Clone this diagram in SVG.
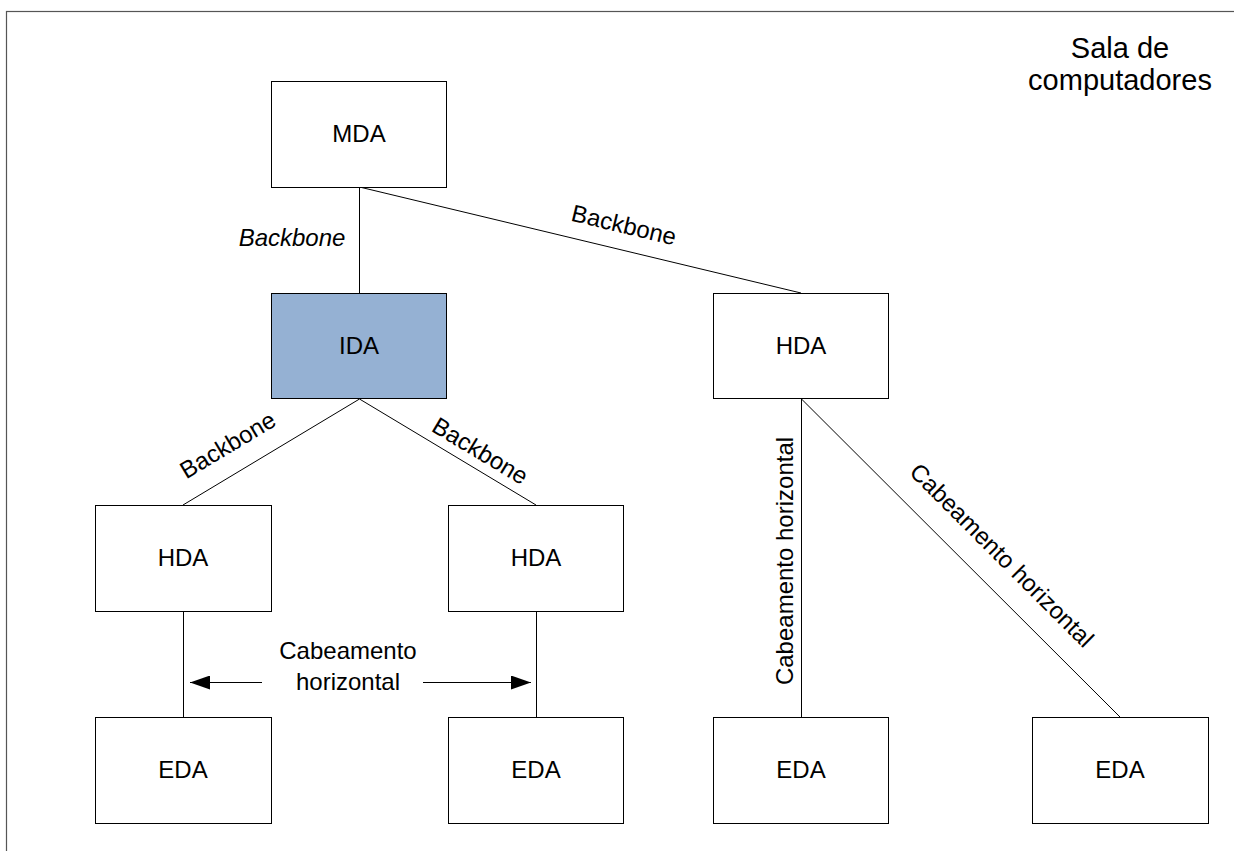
<svg xmlns="http://www.w3.org/2000/svg" width="1234" height="851" viewBox="0 0 1234 851">
<style>
.box{fill:#fff;stroke:#000;stroke-width:1}
.ida{fill:#95B1D3;stroke:#000;stroke-width:1}
.lbl{font-family:"Liberation Sans",Arial,sans-serif;font-size:24px;fill:#000;text-anchor:middle}
.con{stroke:#000;stroke-width:1;fill:none}
</style>
<defs>
<marker id="ah" markerUnits="userSpaceOnUse" markerWidth="22" markerHeight="14" refX="20" refY="7" orient="auto">
<path d="M0,0 L20,7 L0,14 Z" fill="#000"/>
</marker>
</defs>
<rect width="1234" height="851" fill="#fff"/>
<rect id="frame" x="6.5" y="11.5" width="1240" height="850" fill="none" stroke="#555" stroke-width="1.2"/>
<text class="lbl" font-size="29" style="font-size:29px"><tspan x="1120" y="58">Sala de</tspan><tspan x="1120" y="90">computadores</tspan></text>
<g id="connectors">
<line class="con" x1="359.5" y1="187" x2="359.5" y2="293"/>
<line class="con" x1="359.5" y1="187" x2="801" y2="293"/>
<line class="con" x1="359.5" y1="399" x2="183" y2="505"/>
<line class="con" x1="359.5" y1="399" x2="536" y2="505"/>
<line class="con" x1="183.5" y1="611" x2="183.5" y2="717"/>
<line class="con" x1="536.5" y1="611" x2="536.5" y2="717"/>
<line class="con" x1="801.5" y1="399" x2="801.5" y2="717"/>
<line class="con" x1="801.5" y1="399" x2="1120" y2="717"/>
<line class="con" x1="262" y1="682.5" x2="190" y2="682.5" marker-end="url(#ah)"/>
<line class="con" x1="423" y1="682.5" x2="531" y2="682.5" marker-end="url(#ah)"/>
<text class="lbl" x="292" y="246" font-style="italic">Backbone</text>
<text class="lbl" transform="translate(622,233) rotate(13.5)">Backbone</text>
<text class="lbl" transform="translate(232,452) rotate(-31)">Backbone</text>
<text class="lbl" transform="translate(476,458) rotate(31)">Backbone</text>
<text class="lbl"><tspan x="348" y="659">Cabeamento</tspan><tspan x="348" y="690">horizontal</tspan></text>
<text class="lbl" transform="translate(793,561) rotate(-90)">Cabeamento horizontal</text>
<text class="lbl" transform="translate(996,561) rotate(45)">Cabeamento horizontal</text>
</g>
<g id="MDA"><rect class="box" x="271.5" y="81.5" width="175" height="106"/><text class="lbl" x="359" y="142">MDA</text></g>
<g id="IDA"><rect class="ida" x="271.5" y="293.5" width="175" height="105"/><text class="lbl" x="359" y="354">IDA</text></g>
<g id="HDA_R"><rect class="box" x="713.5" y="293.5" width="175" height="105"/><text class="lbl" x="801" y="354">HDA</text></g>
<g id="HDA_L"><rect class="box" x="95.5" y="505.5" width="176" height="106"/><text class="lbl" x="183" y="566">HDA</text></g>
<g id="HDA_M"><rect class="box" x="448.5" y="505.5" width="175" height="106"/><text class="lbl" x="536" y="566">HDA</text></g>
<g id="EDA_1"><rect class="box" x="95.5" y="717.5" width="176" height="106"/><text class="lbl" x="183" y="778">EDA</text></g>
<g id="EDA_2"><rect class="box" x="448.5" y="717.5" width="175" height="106"/><text class="lbl" x="536" y="778">EDA</text></g>
<g id="EDA_3"><rect class="box" x="713.5" y="717.5" width="175" height="106"/><text class="lbl" x="801" y="778">EDA</text></g>
<g id="EDA_4"><rect class="box" x="1032.5" y="717.5" width="176" height="106"/><text class="lbl" x="1120" y="778">EDA</text></g>
</svg>
